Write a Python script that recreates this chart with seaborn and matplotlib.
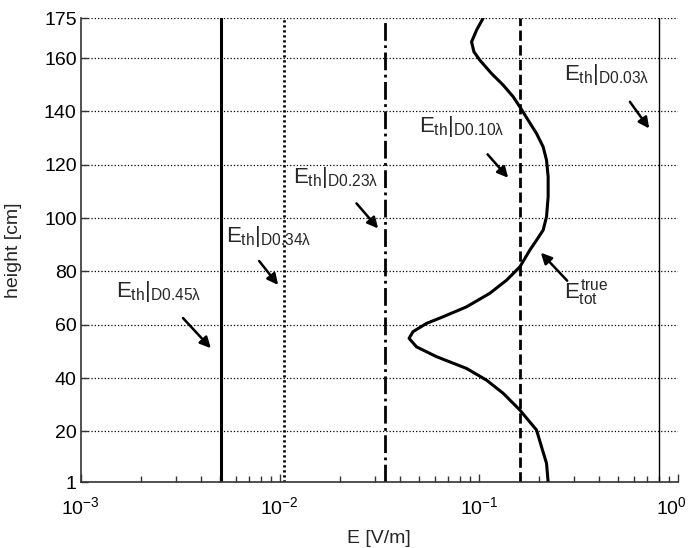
import numpy as np
import pandas as pd
import matplotlib
matplotlib.use("Agg")
import matplotlib.pyplot as plt
import matplotlib.transforms as mtransforms
import seaborn as sns

# =========================
# Data
# =========================
height = [1, 8, 14.2, 20.5, 28, 34.3, 39.2, 43.6, 48, 51.7, 54.9, 57.4, 60.5,
          63, 66.7, 71.8, 76.7, 81.7, 88, 91.7, 95.5, 100.5, 108, 115.5, 121.7,
          126.7, 131.7, 136.7, 141.7, 145.5, 149.9, 154.2, 159.2, 162.4, 166.1,
          170.5, 175]
e_tot = [0.2229, 0.2188, 0.2065, 0.1949, 0.1607, 0.1324, 0.1093, 0.0867,
         0.0613, 0.0486, 0.0446, 0.0467, 0.0546, 0.0662, 0.0867, 0.1136,
         0.1378, 0.1607, 0.1804, 0.1949, 0.2104, 0.2188, 0.2229, 0.2229,
         0.2188, 0.2104, 0.1949, 0.1769, 0.1607, 0.1487, 0.1324, 0.1158,
         0.1012, 0.0944, 0.0919, 0.0974, 0.1051]

thresholds = [0.00509, 0.0105, 0.0337, 0.1607, 0.805]
threshold_styles = ["-", (0, (0.8, 1.0)), "-.", "--", "-"]
threshold_widths = [2.2, 2.0, 2.0, 2.0, 1.0]

labels = [r"$E_{th}|_{D0.45\lambda}$", r"$E_{th}|_{D0.34\lambda}$",
          r"$E_{th}|_{D0.23\lambda}$", r"$E_{th}|_{D0.10\lambda}$",
          r"$E_{th}|_{D0.03\lambda}$", r"$E_{tot}^{true}$"]
arrow_tail = [(0.00326, 62.5), (0.00787, 83.9), (0.02428, 105.5),
              (0.1106, 123.9), (0.574, 143.6), (0.2778, 76.5)]
arrow_head = [(0.0045, 51.2), (0.0098, 74.9), (0.03119, 96.1),
              (0.1404, 115.1), (0.7177, 133.6), (0.2049, 87.0)]
text_pos = [(0.00150, 70.5), (0.00535, 91.1), (0.0116, 113.0),
            (0.0503, 132.3), (0.269, 151.7), (0.267, 69.9)]

xticks = [1e-3, 1e-2, 1e-1, 1e0]
yticks = [1, 20, 40, 60, 80, 100, 120, 140, 160, 175]

# =========================
# Plot
# =========================
sns.set_style("white")
plt.rcParams["font.family"] = ["Liberation Sans", "DejaVu Sans"]
plt.rcParams["mathtext.fontset"] = "custom"
plt.rcParams["mathtext.rm"] = "Liberation Sans"
plt.rcParams["mathtext.it"] = "Liberation Sans"

fig = plt.figure(figsize=(6.91, 5.48), dpi=100)
ax = fig.add_axes([0.117, 0.1204, 0.864, 0.8466])

df = pd.DataFrame({"E": e_tot, "h": height})
sns.lineplot(data=df, x="E", y="h", sort=False, estimator=None,
             color="black", lw=2.2, ax=ax, solid_joinstyle="round")

for xv, ls, lw in zip(thresholds, threshold_styles, threshold_widths):
    ax.axvline(xv, color="black", linestyle=ls, lw=lw)

for lab, tail, head, tp in zip(labels, arrow_tail, arrow_head, text_pos):
    ax.annotate("", xy=head, xytext=tail,
                arrowprops=dict(arrowstyle="-|>", color="black", lw=1.8,
                                mutation_scale=16, shrinkA=0, shrinkB=0))
    ax.text(tp[0], tp[1], lab, fontsize=16, va="baseline", ha="left")

ax.set_xscale("log")
ax.set_xlim(1e-3, 1e0)
ax.set_ylim(1, 175)
ax.set_xticks(xticks)
ax.set_yticks(yticks)
ax.yaxis.grid(True, linestyle=":", color="black", lw=0.9)
ax.xaxis.grid(False)
ax.tick_params(axis="both", which="both", direction="in", labelsize=14,
               colors="#333333", labelcolor="black", bottom=True, left=True,
               width=1)
ax.tick_params(axis="x", which="major", length=6, pad=10)
ax.tick_params(axis="x", which="minor", length=4)
ax.tick_params(axis="y", length=5, pad=3)
for side in ["top", "right"]:
    ax.spines[side].set_visible(False)
for side in ["left", "bottom"]:
    ax.spines[side].set_color("#333333")
    ax.spines[side].set_linewidth(1.2)

# nudge the last x label so it stays inside the figure
shift = mtransforms.ScaledTranslation(-6 / 100, 0, fig.dpi_scale_trans)
last = ax.get_xticklabels()[-1]
last.set_transform(last.get_transform() + shift)

ax.set_xlabel("E [V/m]", fontsize=14, labelpad=9)
ax.set_ylabel("height [cm]", fontsize=14, labelpad=16)

fig.savefig("out.png", dpi=100)
